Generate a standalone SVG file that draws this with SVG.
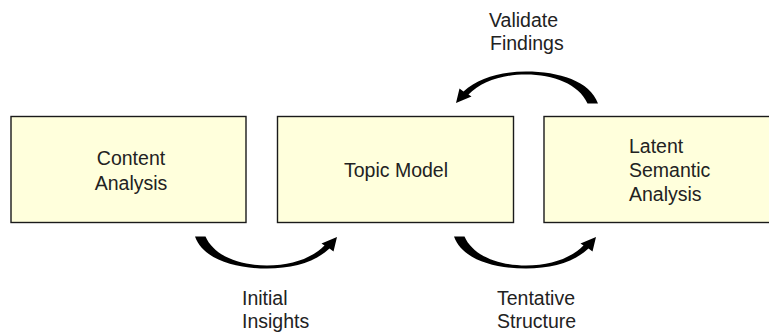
<svg xmlns="http://www.w3.org/2000/svg" xmlns:xlink="http://www.w3.org/1999/xlink" width="769" height="333" viewBox="0 0 769 333">
  <style>
    .box { fill: #FFFFDC; stroke: #1a1a1a; stroke-width: 1.4; }
    .t { font-family: "Liberation Sans", Arial, sans-serif; font-size: 19.5px; fill: #222; }
    .c { text-anchor: middle; }
    .arrow { fill: #000; }
  </style>
  <defs>
    <path id="curvedArrow" d="M195,236.5 L205.5,236.5 C214,256 240,265.5 267,265.5 C292,265.5 312,258 324.5,245.5 L321.5,243.5 L337,237 L333.5,251.5 L329.5,248.5 C315,262 293,268.5 267,268.5 C234,268.5 203,259 195,236.5 Z"/>
  </defs>
  <rect width="769" height="333" fill="#fff"/>
  <g id="content-analysis">
    <rect class="box" x="11" y="116.5" width="235" height="106"/>
    <text class="t c" x="131" y="165">Content</text>
    <text class="t c" x="131" y="189.5">Analysis</text>
  </g>
  <g id="topic-model">
    <rect class="box" x="277.5" y="116.5" width="236" height="106"/>
    <text class="t c" x="396" y="177">Topic Model</text>
  </g>
  <g id="lsa">
    <rect class="box" x="544" y="116.5" width="240" height="106"/>
    <text class="t" x="629" y="153">Latent</text>
    <text class="t" x="629" y="177">Semantic</text>
    <text class="t" x="629" y="200.5">Analysis</text>
  </g>
  <g id="connectors">
    <use class="arrow" xlink:href="#curvedArrow"/>
    <use class="arrow" xlink:href="#curvedArrow" transform="translate(259,0)"/>
    <use class="arrow" xlink:href="#curvedArrow" transform="rotate(180,396.5,170)"/>
    <text class="t" x="242" y="305">Initial</text>
    <text class="t" x="242" y="328">Insights</text>
    <text class="t" x="497" y="305">Tentative</text>
    <text class="t" x="497" y="328">Structure</text>
    <text class="t" x="489" y="27">Validate</text>
    <text class="t" x="490" y="50">Findings</text>
  </g>
</svg>
